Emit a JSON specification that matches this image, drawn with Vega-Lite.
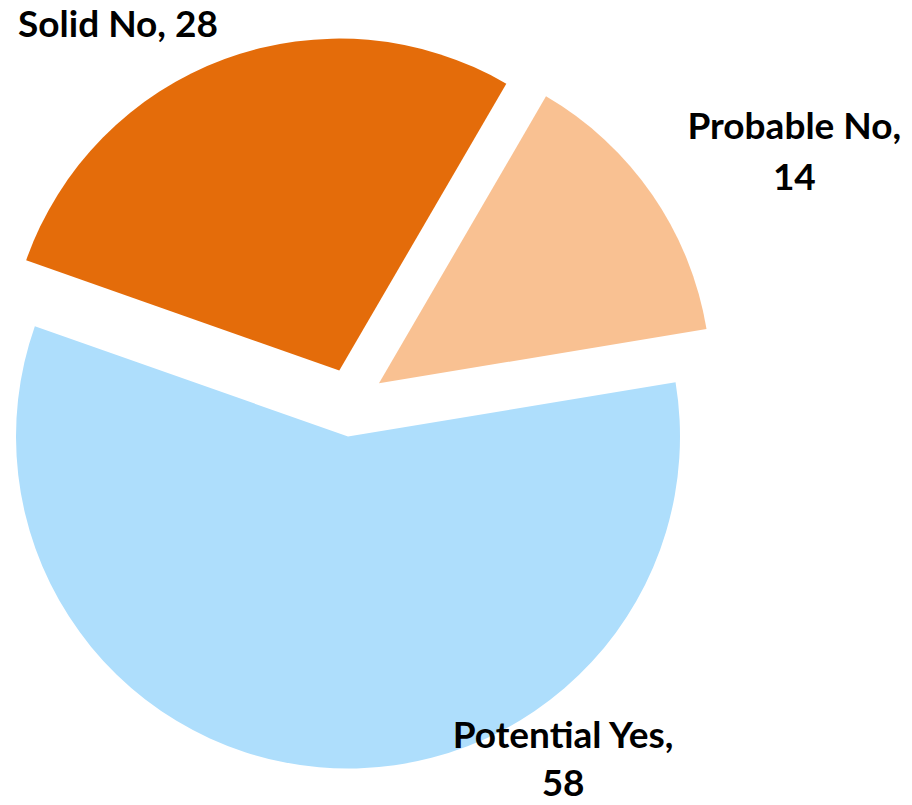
{
  "$schema": "https://vega.github.io/schema/vega-lite/v6.json",
  "width": 702,
  "height": 805,
  "autosize": {"type": "none"},
  "padding": {"left": 0, "top": 0, "right": 210, "bottom": 0},
  "background": "white",
  "config": {"view": {"stroke": null}},
  "data": {
    "values": [
      {"category": "Probable No", "value": 14, "label": "Probable No,\n14"},
      {"category": "Potential Yes", "value": 58, "label": "Potential Yes,\n58"},
      {"category": "Solid No", "value": 28, "label": "Solid No, 28"}
    ]
  },
  "transform": [{"stack": "value", "groupby": [], "as": ["v0", "v1"]}],
  "encoding": {
    "theta": {"field": "v0", "type": "quantitative", "scale": {"domain": [0, 100], "range": [0.5271, 6.8103]}},
    "color": {
      "field": "category",
      "type": "nominal",
      "scale": {"domain": ["Probable No", "Potential Yes", "Solid No"], "range": ["#F9C192", "#AEDEFC", "#E46C0A"]},
      "legend": null
    },
    "text": {"field": "label"}
  },
  "layer": [
    {
      "transform": [{"filter": "datum.category === 'Probable No'"}],
      "layer": [
        {"mark": {"type": "arc", "outerRadius": 332, "xOffset": 28, "yOffset": -19.2}, "encoding": {"theta2": {"field": "v1"}}},
        {"mark": {"type": "text", "font": "Lato", "fontWeight": "bold", "fontSize": 37, "align": "center", "baseline": "alphabetic", "lineBreak": "\n", "lineHeight": 51, "dx": 222, "dy": 117}, "encoding": {"radius": {"value": 440}, "color": {"value": "black"}}}
      ]
    },
    {
      "transform": [{"filter": "datum.category === 'Potential Yes'"}],
      "layer": [
        {"mark": {"type": "arc", "outerRadius": 332, "xOffset": -3, "yOffset": 34}, "encoding": {"theta2": {"field": "v1"}}},
        {"mark": {"type": "text", "font": "Lato", "fontWeight": "bold", "fontSize": 37, "align": "center", "baseline": "alphabetic", "lineBreak": "\n", "lineHeight": 48, "dx": -222, "dy": 417}, "encoding": {"radius": {"value": 440}, "color": {"value": "black"}}}
      ]
    },
    {
      "transform": [{"filter": "datum.category === 'Solid No'"}],
      "layer": [
        {"mark": {"type": "arc", "outerRadius": 332, "xOffset": -11.7, "yOffset": -31.9}, "encoding": {"theta2": {"field": "v1"}}},
        {"mark": {"type": "text", "font": "Lato", "fontWeight": "bold", "fontSize": 37, "align": "center", "baseline": "alphabetic", "lineBreak": "\n", "lineHeight": 51, "dx": 182, "dy": -219}, "encoding": {"radius": {"value": 440}, "color": {"value": "black"}}}
      ]
    }
  ]
}
